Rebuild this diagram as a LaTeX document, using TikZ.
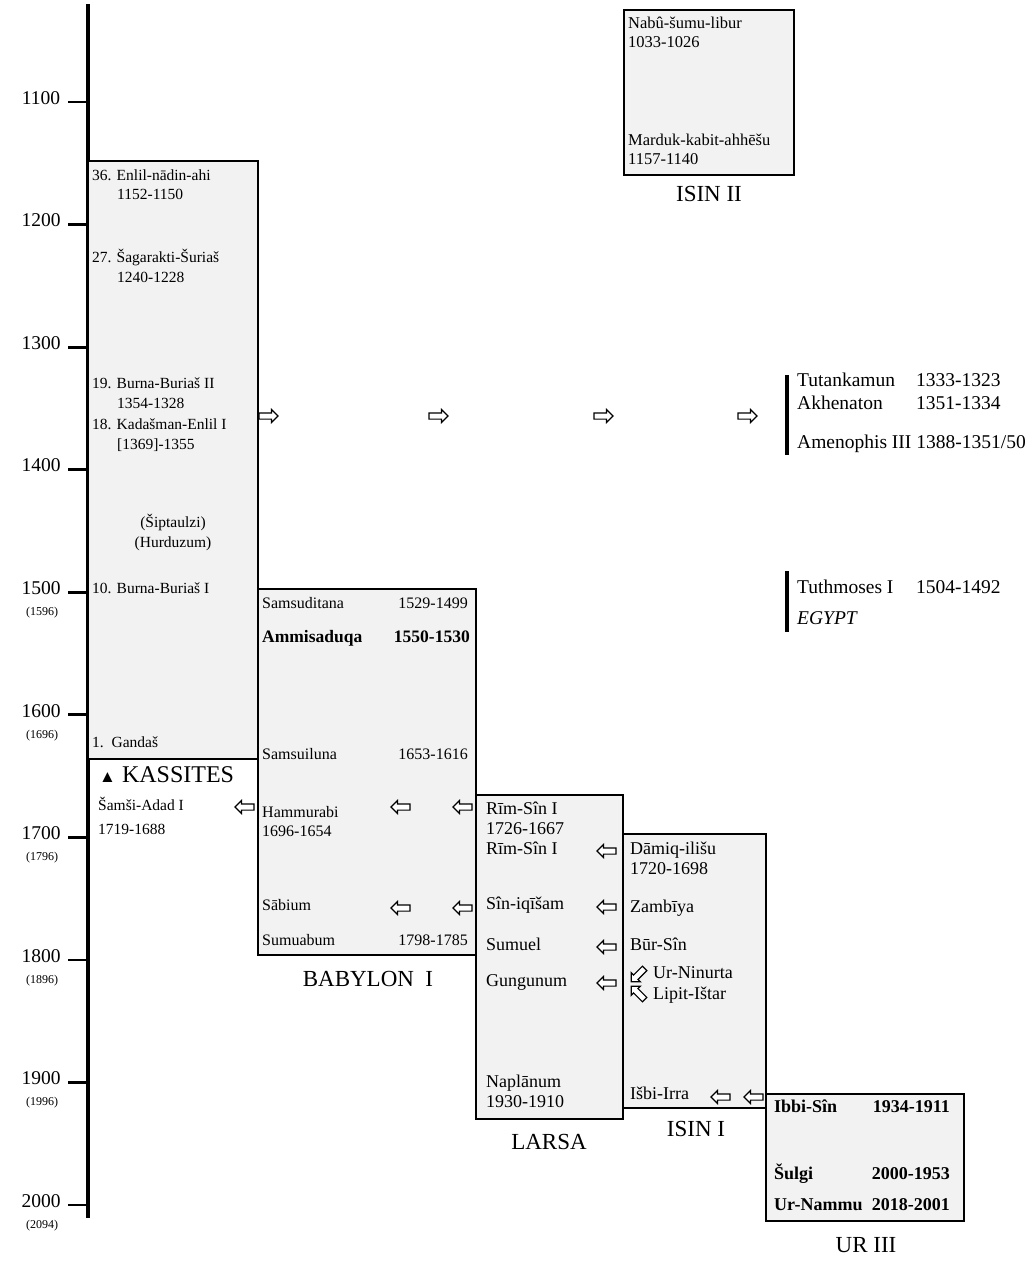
\documentclass[tikz,border=0pt]{standalone}
\usepackage{fontspec}
\setmainfont{Liberation Serif}
\usepackage{xcolor}
\usetikzlibrary{shapes.arrows}
\definecolor{boxfill}{HTML}{F2F2F2}
\tikzset{
  reign/.style={draw=black, fill=boxfill, line width=1.3pt},
  axisline/.style={line width=4.5pt, draw=black},
  tick/.style={line width=2.8pt, draw=black},
  egbar/.style={line width=4pt, draw=black},
  txt/.style={anchor=mid west, inner sep=0pt},
  kas/.style={txt, font=\fontsize{15.5}{17}\selectfont},
  bab/.style={txt, font=\fontsize{16}{18}\selectfont},
  babyr/.style={bab, anchor=mid east},
  babbf/.style={txt, font=\fontsize{17.5}{20}\selectfont\bfseries},
  babbfyr/.style={babbf, anchor=mid east},
  lar/.style={txt, font=\fontsize{18}{20}\selectfont},
  egy/.style={txt, font=\fontsize{19.5}{21}\selectfont},
  urbf/.style={txt, font=\fontsize{18}{20}\selectfont\bfseries},
  urbfyr/.style={urbf, anchor=mid east},
  dyn/.style={anchor=mid, inner sep=0pt, font=\fontsize{23}{25}\selectfont},
  yearlbl/.style={anchor=mid, inner sep=0pt, font=\fontsize{19.5}{20}\selectfont},
  yearsub/.style={anchor=mid, inner sep=0pt, font=\fontsize{12}{13}\selectfont},
  harrow/.style={single arrow, draw=black, fill=white, line width=1.2pt,
                 minimum height=19pt, inner sep=2.5pt, outer sep=0pt,
                 single arrow head extend=3.4pt},
  larrow/.style={harrow, shape border rotate=180}
}

\begin{document}
\begin{tikzpicture}[x=1pt,y=-1pt]
    \useasboundingbox (0,0) rectangle (1032,1262);

    % ===== time axis =====
    \draw[axisline] (88,4) -- (88,1218);
    \foreach \yr in {1100,1200,...,2000}{
      \draw[tick] (68,{102+(\yr-1100)*1.2256}) -- (88,{102+(\yr-1100)*1.2256});
      \node[yearlbl] (yr\yr) at (41,{102+(\yr-1100)*1.2256}) {\yr};
    }
    \foreach \yr/\lo in {1500/1596,1600/1696,1700/1796,1800/1896,1900/1996,2000/2094}
      \node[yearsub] (lo\yr) at (42,{123+(\yr-1100)*1.2256}) {(\lo)};

    % ===== dynasty boxes =====
    \draw[reign] (88,161) rectangle (258,759);    % Kassites
    \draw[reign] (258,589) rectangle (476,955);   % Babylon I
    \draw[reign] (476,795) rectangle (623,1119);  % Larsa
    \draw[reign] (623,834) rectangle (766,1108);  % Isin I
    \draw[reign] (766,1094) rectangle (964,1221); % Ur III
    \draw[reign] (624,10) rectangle (794,175);    % Isin II

    % ===== Isin II =====
    \node[bab,font=\fontsize{16.5}{18}\selectfont] (nabu) at (628,26) {Nabû-šumu-libur};
    \node[bab,font=\fontsize{16.5}{18}\selectfont] (nabuyr) at (628,45) {1033-1026};
    \node[bab,font=\fontsize{16.5}{18}\selectfont] (marduk) at (628,143) {Marduk-kabit-ahhēšu};
    \node[bab,font=\fontsize{16.5}{18}\selectfont] (mardukyr) at (628,162) {1157-1140};
    \node[dyn] (isin2) at (709,199) {ISIN II};

    % ===== Kassites =====
    \node[kas] (enlil) at (92,178) {36. Enlil-nādin-ahi};
    \node[kas] (enlilyr) at (117,197) {1152-1150};
    \node[kas] (sagar) at (92,260) {27. Šagarakti-Šuriaš};
    \node[kas] (sagaryr) at (117,280) {1240-1228};
    \node[kas] (burnaii) at (92,386) {19. Burna-Buriaš II};
    \node[kas] (burnaiiyr) at (117,406) {1354-1328};
    \node[kas] (kadas) at (92,427) {18. Kadašman-Enlil I};
    \node[kas] (kadasyr) at (117,447) {[1369]-1355};
    \node[kas,anchor=mid] (sipt) at (173,525) {(Šiptaulzi)};
    \node[kas,anchor=mid] (hurdu) at (173,545) {(Hurduzum)};
    \node[kas] (burnai) at (92,591) {10. Burna-Buriaš I};
    \node[kas] (gandas) at (92,745) {1.\ \ Gandaš};
    \node[dyn,font=\fontsize{24}{26}\selectfont,anchor=mid west] (kassites) at (99,780)
      {{\fontsize{17}{17}\selectfont ▲} KASSITES};
    \node[kas] (samsi) at (98,808) {Šamši-Adad I};
    \node[kas] (samsiyr) at (98,832) {1719-1688};

    % ===== Babylon I =====
    \node[bab] (samsud) at (262,606) {Samsuditana};
    \node[babyr] (samsudyr) at (468,606) {1529-1499};
    \node[babbf] (ammi) at (262,640) {Ammisaduqa};
    \node[babbfyr] (ammiyr) at (470,640) {1550-1530};
    \node[bab] (samsui) at (262,757) {Samsuiluna};
    \node[babyr] (samsuiyr) at (468,757) {1653-1616};
    \node[bab] (hammu) at (262,815) {Hammurabi};
    \node[bab] (hammuyr) at (262,834) {1696-1654};
    \node[bab] (sabium) at (262,908) {Sābium};
    \node[bab] (sumua) at (262,943) {Sumuabum};
    \node[babyr] (sumuayr) at (468,943) {1798-1785};
    \node[dyn] (babylon) at (368,984) {BABYLON\enspace I};

    % ===== Larsa =====
    \node[lar] (rimsin) at (486,812) {Rīm-Sîn I};
    \node[lar] (rimsinyr) at (486,832) {1726-1667};
    \node[lar] (rimsinb) at (486,852) {Rīm-Sîn I};
    \node[lar] (siniqi) at (486,907) {Sîn-iqīšam};
    \node[lar] (sumuel) at (486,948) {Sumuel};
    \node[lar] (gungu) at (486,984) {Gungunum};
    \node[lar] (naplan) at (486,1085) {Naplānum};
    \node[lar] (naplanyr) at (486,1105) {1930-1910};
    \node[dyn] (larsa) at (549,1147) {LARSA};

    % ===== Isin I =====
    \node[lar] (damiq) at (630,852) {Dāmiq-ilišu};
    \node[lar] (damiqyr) at (630,872) {1720-1698};
    \node[lar] (zambi) at (630,910) {Zambīya};
    \node[lar] (bursin) at (630,948) {Būr-Sîn};
    \node[lar] (urnin) at (653,976) {Ur-Ninurta};
    \node[lar] (lipit) at (653,997) {Lipit-Ištar};
    \node[lar] (isbi) at (630,1097) {Išbi-Irra};
    \node[dyn] (isin1) at (696,1134) {ISIN I};

    % ===== Ur III =====
    \node[urbf] (ibbi) at (774,1110) {Ibbi-Sîn};
    \node[urbfyr] (ibbiyr) at (950,1110) {1934-1911};
    \node[urbf] (sulgi) at (774,1177) {Šulgi};
    \node[urbfyr] (sulgiyr) at (950,1177) {2000-1953};
    \node[urbf] (urnam) at (774,1208) {Ur-Nammu};
    \node[urbfyr] (urnamyr) at (950,1208) {2018-2001};
    \node[dyn] (ur3) at (866,1250) {UR III};

    % ===== Egypt =====
    \draw[egbar] (787,375) -- (787,455);
    \draw[egbar] (787,571) -- (787,632);
    \node[egy] (tut) at (797,384) {Tutankamun};
    \node[egy] (tutyr) at (916,384) {1333-1323};
    \node[egy] (akhen) at (797,407) {Akhenaton};
    \node[egy] (akhenyr) at (916,407) {1351-1334};
    \node[egy] (ameno) at (797,446) {Amenophis III 1388-1351/50};
    \node[egy] (tuth) at (797,591) {Tuthmoses I};
    \node[egy] (tuthyr) at (916,591) {1504-1492};
    \node[egy,font=\fontsize{19.5}{21}\selectfont\itshape] (egypt) at (797,622) {EGYPT};

    % ===== contact arrows =====
    \foreach \x in {267,437,602,746}
      \node[harrow] (ra\x) at (\x,416) {};
    \node[larrow] (la1) at (246,807) {};
    \node[larrow] (la2) at (402,807) {};
    \node[larrow] (la3) at (464,807) {};
    \node[larrow] (la4) at (402,908) {};
    \node[larrow] (la5) at (464,908) {};
    \foreach \y in {851,907,947,983}
      \node[larrow] (lb\y) at (608,\y) {};
    \node[larrow] (lc1) at (722,1097) {};
    \node[larrow] (lc2) at (755,1097) {};
    \node[harrow,rotate=225] (dga) at (639,974) {};
    \node[harrow,rotate=135] (dgb) at (639,994) {};
\end{tikzpicture}
\end{document}
